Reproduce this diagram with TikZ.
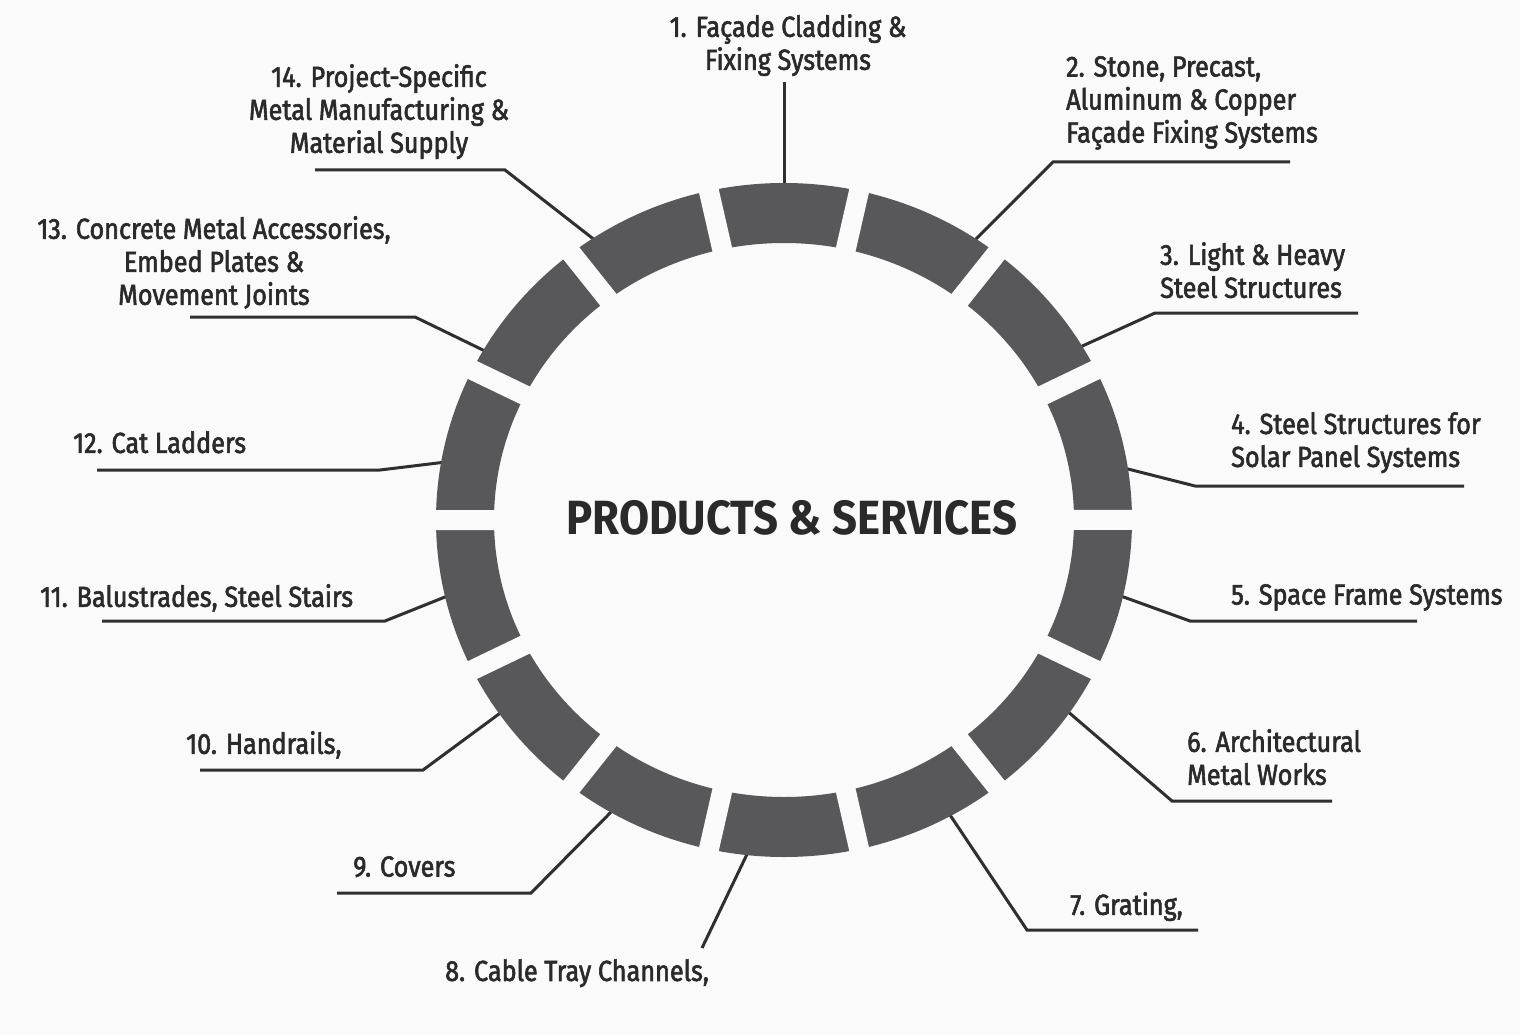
\documentclass[tikz,border=0pt]{standalone}
\usepackage{fontspec}
\setmainfont{Fira Sans}
\newfontfamily\labfont{Fira Sans}[FakeStretch=0.87,FakeBold=2]
\newfontfamily\titfont{Fira Sans}[FakeStretch=0.91]
\definecolor{bgc}{HTML}{FAFAFA}
\definecolor{segc}{HTML}{58585A}
\definecolor{txtc}{HTML}{2A2A2A}
\definecolor{linec}{HTML}{2F2F2F}
\begin{document}
\begin{tikzpicture}[x=1pt,y=-1pt,
  lab/.style={inner sep=0pt, text=txtc, font=\labfont\fontsize{29}{33}\selectfont},
  labl/.style={lab, anchor=north west, align=left},
  labc/.style={lab, anchor=north, align=center},
  conn/.style={draw=linec, line width=3pt, line join=miter}]
\useasboundingbox (0,0) rectangle (1520,1035);
\fill[bgc] (0,0) rectangle (1520,1035);
\coordinate (C) at (784,520);
% connector coordinates
\coordinate (e1) at (784,190); \coordinate (t1) at (784,82);
\coordinate (e2) at (975,240); \coordinate (k2) at (1053,162); \coordinate (h2) at (1290,162);
\coordinate (e3) at (1078,348); \coordinate (k3) at (1155,313); \coordinate (h3) at (1358,313);
\coordinate (e4) at (1120,467); \coordinate (k4) at (1195,486); \coordinate (h4) at (1464,486);
\coordinate (e5) at (1118,595); \coordinate (k5) at (1190,621); \coordinate (h5) at (1417,621);
\coordinate (e6) at (1066,710); \coordinate (k6) at (1172,801); \coordinate (h6) at (1332,801);
\coordinate (e7) at (946,809); \coordinate (k7) at (1027,930); \coordinate (h7) at (1198,930);
\coordinate (e8) at (750,848); \coordinate (t8) at (702,948);
\coordinate (e9) at (617,806); \coordinate (k9) at (531,893); \coordinate (h9) at (337,893);
\coordinate (e10) at (503,711); \coordinate (k10) at (423,770); \coordinate (h10) at (200,770);
\coordinate (e11) at (450,595); \coordinate (k11) at (385,621); \coordinate (h11) at (102,621);
\coordinate (e12) at (446,462); \coordinate (k12) at (380,470); \coordinate (h12) at (97,470);
\coordinate (e13) at (487,352); \coordinate (k13) at (415,317); \coordinate (h13) at (190,317);
\coordinate (e14) at (596,241); \coordinate (k14) at (505,170); \coordinate (h14) at (315,170);
\draw[conn] (e1) -- (t1);
\draw[conn] (e8) -- (t8);
\foreach \i in {2,...,7,9,10,11,12,13,14} \draw[conn] (e\i) -- (k\i) -- (h\i);
% ring
\fill[segc, even odd rule] (C) ellipse [x radius=348pt, y radius=337pt]
  (C) ellipse [x radius=290pt, y radius=277pt];
\begin{scope}
  \clip (C) ellipse [x radius=349pt, y radius=338pt];
  \foreach \k in {0,...,13} \draw[bgc, line width=20pt] (C) -- ++({77.143-\k*25.714}:430pt);
\end{scope}
% title
\node[inner sep=0pt, text=txtc, font=\titfont\bfseries\fontsize{48}{52}\selectfont] (title) at (792,518) {PRODUCTS \& SERVICES};
% labels
\node[labc] (l1) at (788,14) {1. Façade Cladding \&\\Fixing Systems};
\node[labl] (l2) at (1066,56) {2. Stone, Precast,\\Aluminum \& Copper\\Façade Fixing Systems};
\node[labl] (l3) at (1160,242) {3. Light \& Heavy\\Steel Structures};
\node[labl] (l4) at (1231,412) {4. Steel Structures for\\Solar Panel Systems};
\node[labl] (l5) at (1231,584) {5. Space Frame Systems};
\node[labl] (l6) at (1187,729) {6. Architectural\\Metal Works};
\node[labl] (l7) at (1070,892) {7. Grating,};
\node[labl] (l8) at (445,959) {8. Cable Tray Channels,};
\node[labl] (l9) at (353,856) {9. Covers};
\node[labl] (l10) at (186,731) {10. Handrails,};
\node[labl] (l11) at (40,584) {11. Balustrades, Steel Stairs};
\node[labl] (l12) at (73,431) {12. Cat Ladders};
\node[labc] (l13) at (214,216) {13. Concrete Metal Accessories,\\Embed Plates \&\\Movement Joints};
\node[labc] (l14) at (379,64) {14. Project-Specific\\Metal Manufacturing \&\\Material Supply};
\end{tikzpicture}
\end{document}
